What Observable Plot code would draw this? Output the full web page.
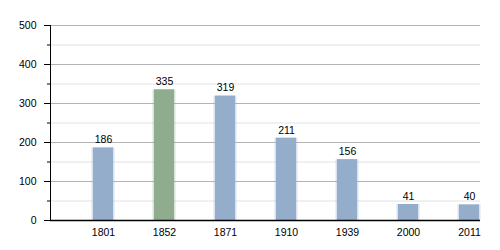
<!DOCTYPE html>
<html>
<head>
<meta charset="utf-8">
<script src="https://cdn.jsdelivr.net/npm/d3@7"></script>
<script src="https://cdn.jsdelivr.net/npm/@observablehq/plot@0.6"></script>
<style>
  html, body { margin: 0; padding: 0; background: #fff; }
  #chart svg { display: block; }
</style>
</head>
<body>
<div id="chart"></div>
<script>
const years = ["1801", "1852", "1871", "1910", "1939", "2000", "2011"];
const population = [186, 335, 319, 211, 156, 41, 40];
const highlight = ["1852"];
const majorTicks = [0, 100, 200, 300, 400, 500];
const minorTicks = [50, 150, 250, 350, 450];

const data = years.map((y, i) => ({year: y, value: population[i], hl: highlight.includes(y)}));

const chart = Plot.plot({
  width: 500,
  height: 250,
  marginLeft: 50,
  marginRight: 20,
  marginTop: 25,
  marginBottom: 30,
  style: {fontFamily: "Liberation Sans, Arial, sans-serif", fontSize: "10px", color: "#000", background: "#fff"},
  x: {type: "band", domain: years, range: [71.3, 500.7], paddingInner: 0.674, paddingOuter: 0.337, label: null},
  y: {domain: [0, 500], label: null},
  marks: [
    Plot.gridY(minorTicks, {stroke: "#e2e2e2", strokeOpacity: 1}),
    Plot.gridY(majorTicks.filter(d => d > 0), {stroke: "#b3b3b3", strokeOpacity: 1}),
    Plot.barY(data, {x: "year", y: "value", fill: d => d.hl ? "#8fac8f" : "#93adca", insetLeft: -1.5, insetRight: -1.5, fillOpacity: 0.35}),
    Plot.barY(data, {x: "year", y: "value", fill: d => d.hl ? "#8fac8f" : "#93adca"}),
    Plot.text(data, {x: "year", y: "value", text: d => String(d.value), dy: -8, fill: "#000", fontSize: 10.5}),
    Plot.axisY(majorTicks, {tickSize: 6, tickPadding: 8, fontSize: 10.5, stroke: "#000"}),
    Plot.axisY(minorTicks, {tickSize: 3, text: null, stroke: "#000"}),
    Plot.axisX({tickSize: 0, tickPadding: 8, fontSize: 10.5}),
    Plot.frame({anchor: "left", stroke: "#000"}),
    Plot.ruleY([0], {stroke: "#000", strokeWidth: 1.3})
  ]
});
document.getElementById("chart").appendChild(chart);
</script>
</body>
</html>
